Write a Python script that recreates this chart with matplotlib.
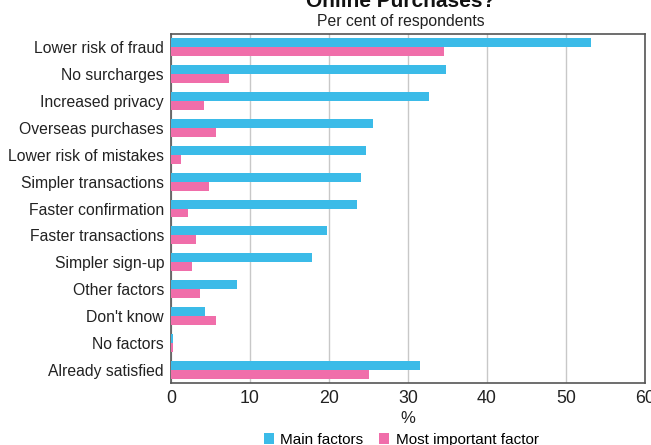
import matplotlib.pyplot as plt
import numpy as np

plt.rcParams['font.family'] = ['Liberation Sans', 'DejaVu Sans']

# data (per cent of respondents)
categories = ['Lower risk of fraud', 'No surcharges', 'Increased privacy',
              'Overseas purchases', 'Lower risk of mistakes', 'Simpler transactions',
              'Faster confirmation', 'Faster transactions', 'Simpler sign-up',
              'Other factors', "Don't know", 'No factors', 'Already satisfied']
main_factors = [53.1, 34.8, 32.7, 25.6, 24.7, 24.1, 23.6, 19.7, 17.9, 8.4, 4.3, 0.2, 31.5]
most_important = [34.5, 7.3, 4.2, 5.7, 1.3, 4.8, 2.1, 3.2, 2.6, 3.7, 5.7, 0.2, 25.0]

blue = '#3BBBE8'
pink = '#F06EAA'

fig = plt.figure(figsize=(6.51, 4.45), dpi=100)
ax = fig.add_axes([0.2627, 0.1393, 0.7281, 0.7843])

y = np.arange(len(categories))
h = 0.335
ax.barh(y - h / 2, main_factors, height=h, color=blue, label='Main factors', zorder=3)
ax.barh(y + h / 2, most_important, height=h, color=pink, label='Most important factor', zorder=3)

ax.set_ylim(len(categories) - 0.5, -0.5)
ax.set_xlim(0, 60)
ax.set_xticks(range(0, 61, 10))
ax.set_yticks(y)
ax.set_yticklabels(categories, fontsize=11.3, color='#222222')
ax.tick_params(axis='y', length=0, pad=5)
ax.tick_params(axis='x', length=0, pad=5, labelsize=12.8, labelcolor='#222222')
ax.grid(axis='x', color='#c8c8c8', linewidth=1, zorder=0)
for s in ax.spines.values():
    s.set_color('#555555')
    s.set_linewidth(1.2)

ax.set_xlabel('%', fontsize=12, color='#222222', labelpad=3)

fig.text(0.616, 0.985, 'Online Purchases?', ha='center', va='baseline',
         fontsize=15, fontweight='bold', color='#111111')
fig.text(0.616, 0.941, 'Per cent of respondents', ha='center', va='baseline',
         fontsize=11.3, color='#222222')

fig.legend(loc='center', bbox_to_anchor=(0.616, 0.012), ncol=2, frameon=False,
           fontsize=11, handlelength=0.7, handleheight=0.7, handletextpad=0.4,
           columnspacing=1.0, borderpad=0)

fig.savefig('out.png', dpi=100)
